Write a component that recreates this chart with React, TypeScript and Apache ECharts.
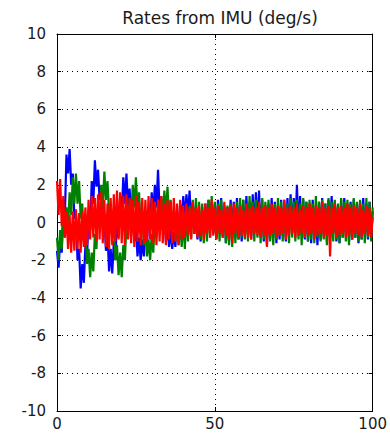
import React, { useEffect, useRef } from "react";
import * as echarts from "echarts";

const TITLE = "Rates from IMU (deg/s)";
const SAMPLE_STEP = 0.5; // seconds between samples, x = index * step
const X_TICKS = [0, 50, 100];
const Y_TICKS = [-10, -8, -6, -4, -2, 0, 2, 4, 6, 8, 10];

const blueRates = [
  -1.5, -2.4, -1.0, -1.6, 1.2, 0.4, 3.6, 2.6, 3.9, 2.0,
  2.6, 0.2, 0.4, -2.0, -1.4, -3.5, -2.2, -3.2, -1.2, -2.0,
  0.6, -0.4, 2.2, 1.0, 3.3, 1.9, 2.8, 1.2, 1.6, -0.2,
  0.4, -1.5, -0.6, -2.6, -1.4, -2.7, -1.0, -2.0, 0.2, -0.8,
  1.4, 0.4, 2.4, 1.0, 2.6, 0.8, 1.8, 0.0, 0.6, -1.0,
  -0.2, -1.8, -0.8, -2.0, -0.9, -1.8, -0.2, -1.2, 0.8, -0.2,
  1.6, 0.4, 2.0, 0.8, 2.8, 0.6, 1.4, -0.4, 0.6, -1.0,
  -0.2, -1.3, -0.4, -1.4, -0.5, -1.3, 0.4, -0.8, 1.0, 0.0,
  1.4, 0.2, 1.5, 0.4, 1.7, -0.2, 1.1, -0.6, 0.7, -0.9,
  0.5, -1.0, 0.8, -0.7, 1.0, -0.5, 1.2, -0.4, 1.1, -0.6,
  1.0, -0.8, 1.2, -0.5, 1.3, -0.7, 0.9, -1.1, 0.8, -1.0,
  1.2, -0.6, 1.1, -0.8, 1.3, -0.9, 1.0, -1.0, 1.2, -0.7,
  1.4, -0.6, 1.1, -0.9, 1.5, -0.5, 1.6, -0.4, 1.7, -0.7,
  1.2, -1.0, 0.9, -1.2, 1.0, -0.9, 1.3, -0.8, 1.1, -1.1,
  0.9, -0.9, 1.2, -0.7, 1.0, -1.0, 1.3, -0.6, 1.5, -0.5,
  1.3, -0.4, 2.0, -0.5, 1.4, -0.7, 1.2, -0.9, 1.1, -1.0,
  1.0, -1.1, 1.2, -0.8, 0.9, -1.2, 1.1, -0.9, 1.3, -0.7,
  1.0, -1.0, 1.2, -0.8, 1.4, -0.6, 1.1, -1.0, 0.9, -1.1,
  1.2, -0.8, 1.3, -0.7, 1.0, -1.0, 1.1, -0.9, 1.2, -0.8,
  1.0, -1.1, 1.1, -0.9, 1.3, -0.7, 1.0, -0.9, 1.1, -0.8,
  0.6,
];

const greenRates = [
  -0.8, -2.0, -0.4, -1.4, 0.2, -0.8, 0.8, -0.2, 1.6, 0.4,
  2.4, 1.0, 2.6, 1.0, 2.2, 0.2, 1.0, -1.0, -0.4, -2.2,
  -1.4, -2.9, -1.6, -2.6, -0.6, -1.4, 0.8, -0.2, 2.0, 0.8,
  2.7, 1.2, 2.2, 0.4, 1.0, -0.8, -0.2, -2.0, -1.2, -2.8,
  -1.6, -2.9, -1.2, -2.0, 0.0, -0.8, 1.2, 0.2, 2.0, 0.8,
  2.4, 0.6, 1.6, -0.2, 0.6, -1.2, -0.4, -1.8, -0.9, -2.0,
  -0.6, -1.6, 0.2, -0.8, 1.0, -0.2, 1.4, 0.2, 1.7, 0.4,
  1.9, 0.2, 1.2, -0.4, 0.6, -1.0, 0.2, -1.2, 0.0, -1.3,
  0.2, -1.4, 0.6, -1.0, 0.9, -0.8, 1.2, -0.6, 1.3, -0.7,
  1.1, -0.9, 1.0, -1.1, 0.9, -1.0, 1.2, -0.8, 1.4, -0.6,
  1.1, -0.9, 1.0, -1.0, 1.2, -0.8, 0.8, -1.1, 0.9, -1.2,
  1.0, -1.3, 0.8, -1.1, 1.1, -0.9, 1.3, -0.8, 1.2, -0.9,
  1.0, -1.0, 1.4, -0.7, 1.1, -1.0, 1.2, -0.8, 1.0, -1.1,
  1.3, -0.9, 1.1, -0.8, 1.2, -1.0, 0.9, -1.2, 1.0, -0.9,
  1.3, -0.7, 1.1, -1.0, 1.2, -0.9, 1.0, -1.1, 1.3, -0.8,
  1.1, -1.0, 1.2, -0.9, 1.0, -1.2, 1.3, -0.8, 1.1, -1.0,
  1.2, -0.9, 1.0, -1.1, 1.4, -0.8, 1.1, -1.0, 1.2, -0.9,
  1.0, -1.2, 1.3, -0.8, 1.1, -1.0, 1.2, -0.9, 1.0, -1.1,
  1.3, -0.8, 1.1, -1.0, 1.2, -1.2, 1.0, -0.9, 1.3, -0.8,
  1.1, -1.0, 1.2, -0.9, 1.0, -1.1, 1.3, -0.8, 1.1, -1.0,
  0.8,
];

const redRates = [
  2.2, 0.4, 2.3, -0.2, 1.4, -0.8, 0.6, -1.4, 0.4, -1.6,
  0.6, -1.5, 0.7, -1.4, 0.5, -1.6, 0.6, -1.3, 0.8, -1.2,
  1.2, -0.9, 1.4, -0.8, 1.3, -1.0, 1.5, -0.9, 1.6, -1.1,
  1.2, -1.3, 1.0, -1.4, 1.3, -1.2, 1.5, -1.0, 1.7, -0.9,
  1.6, -1.1, 1.4, -1.2, 1.5, -0.9, 1.3, -1.1, 1.2, -1.3,
  1.4, -1.0, 1.1, -1.2, 1.3, -1.1, 1.2, -1.0, 1.4, -0.9,
  1.3, -1.1, 1.1, -1.2, 1.2, -1.0, 1.4, -1.1, 1.0, -1.2,
  1.2, -0.9, 1.1, -1.1, 1.3, -1.0, 1.0, -1.2, 1.2, -0.9,
  0.9, -0.8, 1.0, -0.7, 0.8, -0.9, 1.1, -0.6, 0.8, -0.8,
  0.9, -0.7, 0.7, -0.9, 1.0, -0.6, 0.8, -0.8, 1.2, -0.7,
  0.8, -0.9, 0.9, -0.6, 0.7, -0.8, 1.1, -0.7, 0.8, -0.9,
  0.9, -1.1, 1.0, -0.6, 0.8, -0.8, 0.9, -0.7, 0.7, -0.8,
  1.0, -0.8, 0.8, -0.9, 0.9, -0.6, 0.8, -0.7, 1.1, -0.8,
  0.8, -0.7, 0.9, -1.3, 0.8, -0.7, 1.0, -0.6, 0.8, -0.8,
  0.9, -0.7, 0.8, -0.6, 1.2, -0.9, 0.8, -0.7, 0.9, -0.6,
  0.8, -0.8, 1.0, -0.7, 0.7, -0.6, 0.9, -0.8, 0.8, -0.7,
  1.0, -0.6, 0.8, -0.9, 0.9, -0.7, 0.8, -0.6, 1.1, -0.8,
  0.8, -0.7, 0.9, -1.8, 0.8, -0.6, 1.0, -0.8, 0.8, -0.7,
  0.9, -0.6, 0.8, -0.8, 1.0, -0.7, 0.8, -0.9, 0.9, -0.6,
  0.8, -0.7, 1.0, -0.8, 0.7, -0.6, 0.9, -0.7, 0.8, -0.8,
  0.3,
];

const SERIES = [
  { name: "p", values: blueRates, color: "#0000ff" },
  { name: "q", values: greenRates, color: "#008000" },
  { name: "r", values: redRates, color: "#ff0000" },
];

const FONT = "DejaVu Sans, Arial, sans-serif";

export default function App() {
  const ref = useRef<HTMLDivElement>(null);

  useEffect(() => {
    if (!ref.current) return;
    const chart = echarts.init(ref.current, undefined, { renderer: "svg" });

    const xMin = X_TICKS[0];
    const xMax = X_TICKS[X_TICKS.length - 1];
    const xInt = X_TICKS[1] - X_TICKS[0];
    const yMin = Y_TICKS[0];
    const yMax = Y_TICKS[Y_TICKS.length - 1];
    const yInt = Y_TICKS[1] - Y_TICKS[0];

    const dotted = { color: "#000", width: 1, type: [1, 4] as number[] };
    const axisLine = { show: true, onZero: false, lineStyle: { color: "#000", width: 1 } };
    const tick = { show: true, inside: true, length: 4, lineStyle: { color: "#000" } };

    chart.setOption({
      animation: false,
      backgroundColor: "#fff",
      title: {
        text: TITLE,
        left: 215,
        top: 4,
        textAlign: "center",
        textStyle: { fontSize: 17, fontWeight: "normal", fontFamily: FONT, color: "#1a1a1a" },
      },
      grid: { left: 57, right: 14, top: 34, bottom: 23, containLabel: false },
      xAxis: [
        {
          type: "value",
          min: xMin,
          max: xMax,
          interval: xInt,
          position: "bottom",
          axisLine,
          axisTick: tick,
          axisLabel: { color: "#1a1a1a", fontSize: 15, fontFamily: FONT, margin: 5 },
          splitLine: { show: true, lineStyle: dotted },
        },
        {
          type: "value",
          min: xMin,
          max: xMax,
          interval: xInt,
          position: "top",
          axisLine,
          axisTick: tick,
          axisLabel: { show: false },
          splitLine: { show: false },
        },
      ],
      yAxis: [
        {
          type: "value",
          min: yMin,
          max: yMax,
          interval: yInt,
          position: "left",
          axisLine,
          axisTick: tick,
          axisLabel: { color: "#1a1a1a", fontSize: 15, fontFamily: FONT, margin: 11 },
          splitLine: { show: true, lineStyle: dotted },
        },
        {
          type: "value",
          min: yMin,
          max: yMax,
          interval: yInt,
          position: "right",
          axisLine,
          axisTick: tick,
          axisLabel: { show: false },
          splitLine: { show: false },
        },
      ],
      series: SERIES.map((s) => ({
        name: s.name,
        type: "line",
        xAxisIndex: 0,
        yAxisIndex: 0,
        data: s.values.map((v, i) => [i * SAMPLE_STEP, v]),
        showSymbol: false,
        symbol: "none",
        lineStyle: { color: s.color, width: 2.2 },
        itemStyle: { color: s.color },
        clip: true,
      })),
    });

    return () => chart.dispose();
  }, []);

  return (
    <div
      ref={ref}
      style={{ position: "fixed", left: 0, top: 0, width: 390, height: 434, background: "#fff" }}
    />
  );
}
